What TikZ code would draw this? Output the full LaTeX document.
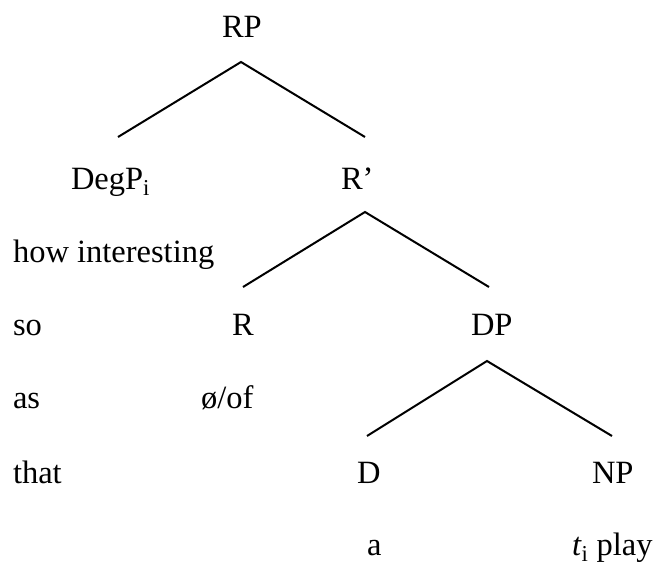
\documentclass[tikz,border=0pt]{standalone}
\usepackage{fontspec}
\setmainfont{Liberation Serif}
\begin{document}
\begin{tikzpicture}[x=1pt,y=-1pt,
  lab/.style={anchor=base west,inner sep=0pt,outer sep=0pt,font=\fontsize{32.5}{38}\selectfont},
  edge/.style={line width=2pt,line join=miter}]
\useasboundingbox (0,0) rectangle (654,565);
% tree labels
\node[lab] (RP) at (222,37) {RP};
\node[lab] (DegP) at (71,189) {DegP\textsubscript{i}};
\node[lab] (Rbar) at (341,189) {R’};
\node[lab] (how) at (13,262) {how interesting};
\node[lab] (so) at (13,335) {so};
\node[lab] (R) at (232,335) {R};
\node[lab] (DP) at (471,335) {DP};
\node[lab] (as) at (13,408) {as};
\node[lab] (of) at (201,408) {ø/of};
\node[lab] (that) at (13,483) {that};
\node[lab] (D) at (357,483) {D};
\node[lab] (NP) at (592,483) {NP};
\node[lab] (a) at (367,555) {a};
\node[lab] (play) at (572,555) {\textit{t}\textsubscript{i} play};
% branch points
\coordinate (c1) at (241,62);
\coordinate (l1) at (118,137);
\coordinate (r1) at (365,137);
\coordinate (c2) at (365,212);
\coordinate (l2) at (243,287);
\coordinate (r2) at (489,287);
\coordinate (c3) at (487,361);
\coordinate (l3) at (367,436);
\coordinate (r3) at (612,436);
\draw[edge] (l1) -- (c1) -- (r1);
\draw[edge] (l2) -- (c2) -- (r2);
\draw[edge] (l3) -- (c3) -- (r3);
\end{tikzpicture}
\end{document}
